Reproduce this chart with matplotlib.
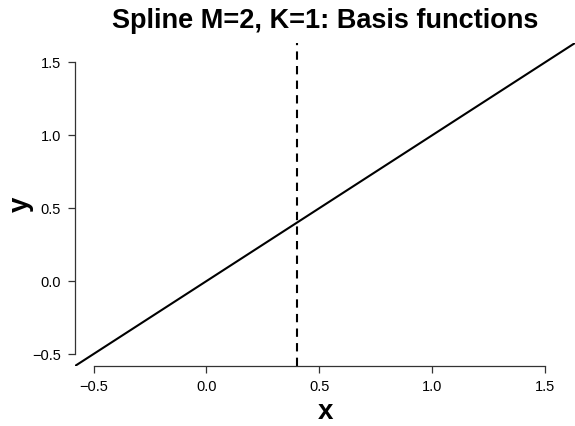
import numpy as np
import matplotlib
matplotlib.use("Agg")
from matplotlib import pyplot as plt

plt.rcParams['font.family'] = ['Liberation Sans', 'DejaVu Sans']

# basis function h(x) = x and the single knot
x_vals = [-0.582, 1.632]
y_vals = [-0.582, 1.632]
knot = 0.4
ticks = [-0.5, 0.0, 0.5, 1.0, 1.5]
tick_labels = ["\u22120.5", "0.0", "0.5", "1.0", "1.5"]

fig = plt.figure(figsize=(5.75, 4.26), dpi=100)
ax = fig.add_axes([75 / 575, 60 / 426, 500 / 575, 323 / 426])

ax.plot(x_vals, y_vals, color="black", linewidth=1.5, solid_capstyle="butt")
ax.axvline(knot, color="black", linewidth=1.5, dashes=(4, 3))

ax.set_xlim(-0.582, 1.632)
ax.set_ylim(-0.582, 1.632)

for side in ("top", "right"):
    ax.spines[side].set_visible(False)
ax.spines["left"].set_bounds(-0.5, 1.5)
ax.spines["bottom"].set_bounds(-0.5, 1.5)
for side in ("left", "bottom"):
    ax.spines[side].set_linewidth(0.9)
    ax.spines[side].set_color("#333333")

ax.set_xticks(ticks)
ax.set_xticklabels(tick_labels)
ax.set_yticks(ticks)
ax.set_yticklabels(tick_labels)
ax.tick_params(direction="out", length=5, width=0.9, color="#333333",
               labelsize=10.5, pad=5)

# x label sits on a fixed baseline near the bottom edge
fig.text(0.5 * (75 + 575) / 575, 7 / 426, "x", fontsize=20, fontweight="bold",
         ha="center", va="baseline")
ax.set_ylabel("y", fontsize=20, fontweight="bold", labelpad=-1)
ax.set_title("Spline M=2, K=1: Basis functions", fontsize=19.5,
             fontweight="bold", pad=11)

fig.savefig("out.png", dpi=100)
